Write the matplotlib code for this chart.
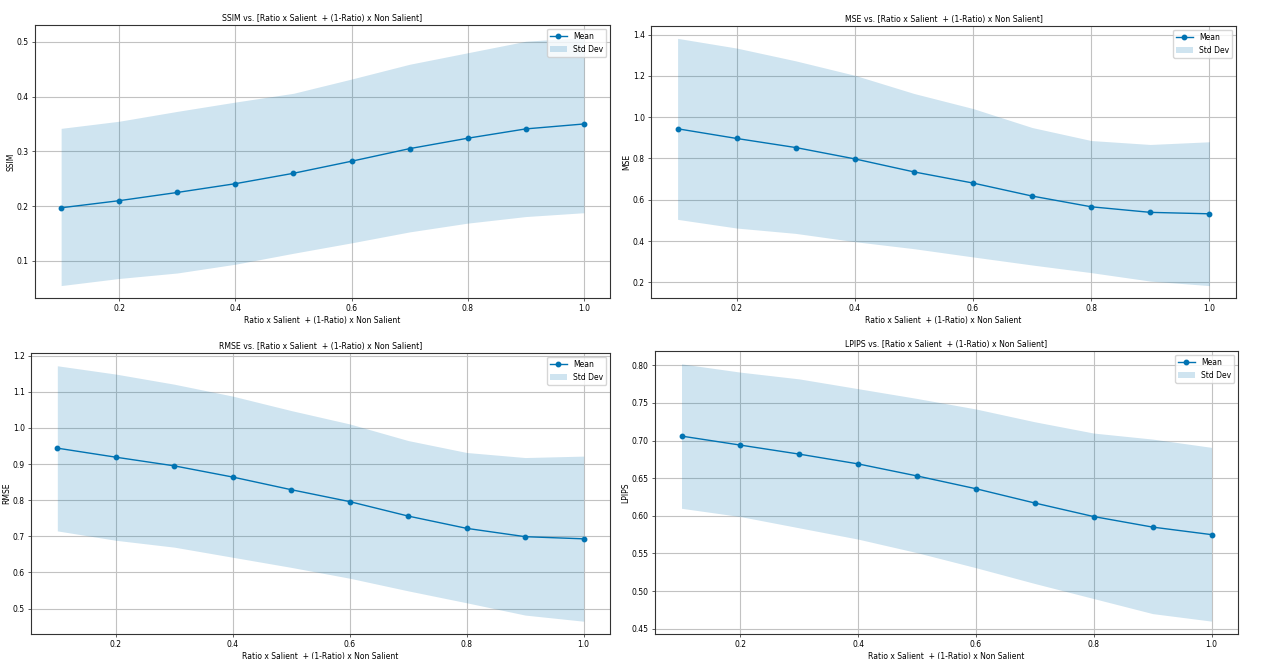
import matplotlib
matplotlib.use('Agg')
import matplotlib.pyplot as plt
import numpy as np

'''DATA'''
ratios = [0.1, 0.2, 0.3, 0.4, 0.5, 0.6, 0.7, 0.8, 0.9, 1.0]
xlabel = 'Ratio x Salient  + (1-Ratio) x Non Salient'

ssim_mean = [0.197, 0.210, 0.225, 0.241, 0.260, 0.282, 0.305, 0.324, 0.341, 0.350]
ssim_upper = [0.342, 0.355, 0.373, 0.390, 0.406, 0.432, 0.459, 0.480, 0.501, 0.508]
ssim_lower = [0.055, 0.068, 0.078, 0.094, 0.114, 0.133, 0.153, 0.169, 0.181, 0.188]

mse_mean = [0.944, 0.897, 0.853, 0.798, 0.735, 0.681, 0.618, 0.566, 0.539, 0.532]
mse_upper = [1.382, 1.335, 1.273, 1.203, 1.115, 1.042, 0.950, 0.887, 0.868, 0.881]
mse_lower = [0.505, 0.463, 0.437, 0.397, 0.363, 0.323, 0.284, 0.247, 0.206, 0.184]

rmse_mean = [0.944, 0.919, 0.895, 0.864, 0.829, 0.796, 0.756, 0.722, 0.699, 0.693]
rmse_upper = [1.172, 1.149, 1.121, 1.088, 1.048, 1.011, 0.965, 0.932, 0.918, 0.922]
rmse_lower = [0.715, 0.689, 0.670, 0.642, 0.614, 0.584, 0.549, 0.516, 0.482, 0.465]

lpips_mean = [0.706, 0.694, 0.682, 0.669, 0.653, 0.636, 0.617, 0.599, 0.585, 0.575]
lpips_upper = [0.802, 0.791, 0.782, 0.769, 0.756, 0.742, 0.725, 0.710, 0.702, 0.691]
lpips_lower = [0.610, 0.599, 0.584, 0.569, 0.551, 0.531, 0.510, 0.490, 0.470, 0.460]

'''PLOT'''
W, H = 1264, 659
fig = plt.figure(figsize=(W/100, H/100), dpi=100)

# pixel boxes: left, top, right, bottom
boxes = [(35, 25, 610, 298), (651, 26, 1236, 298), (31, 353, 610, 634), (655, 351, 1238, 634)]
panels = [('SSIM', ssim_mean, ssim_lower, ssim_upper, [0.1, 0.2, 0.3, 0.4, 0.5], '%.1f'),
          ('MSE', mse_mean, mse_lower, mse_upper, [0.2, 0.4, 0.6, 0.8, 1.0, 1.2, 1.4], '%.1f'),
          ('RMSE', rmse_mean, rmse_lower, rmse_upper, [0.5, 0.6, 0.7, 0.8, 0.9, 1.0, 1.1, 1.2], '%.1f'),
          ('LPIPS', lpips_mean, lpips_lower, lpips_upper, [0.45, 0.50, 0.55, 0.60, 0.65, 0.70, 0.75, 0.80], '%.2f')]

blue = '#0173b2'
fs = 5.5

for (l, t, r, b), (name, mean, lo, hi, yt, fmt) in zip(boxes, panels):
    ax = fig.add_axes([l/W, 1-b/H, (r-l)/W, (b-t)/H])
    ax.fill_between(ratios, lo, hi, color=blue, alpha=0.19, linewidth=0, label='Std Dev')
    ax.plot(ratios, mean, marker='o', color=blue, lw=1.0, markersize=3.2, label='Mean')
    ax.set_xticks([0.2, 0.4, 0.6, 0.8, 1.0])
    ax.set_yticks(yt)
    ax.yaxis.set_major_formatter(matplotlib.ticker.FormatStrFormatter(fmt))
    ax.grid(True, color='#c2c2c2', lw=0.8)
    ax.set_axisbelow(True)
    ax.tick_params(labelsize=fs, length=2.5, width=0.6, color='#444444', pad=2)
    for s in ax.spines.values():
        s.set_color('#333333')
        s.set_linewidth(0.8)
    ax.set_title(name + ' vs. [' + xlabel + ']', fontsize=5.6, pad=3)
    ax.set_xlabel(xlabel, fontsize=fs, labelpad=2)
    ax.set_ylabel(name, fontsize=fs, labelpad=1)
    h, lab = ax.get_legend_handles_labels()
    ax.legend(h[::-1], lab[::-1], loc='upper right', fontsize=fs, framealpha=0.8, borderpad=0.4, handlelength=2.2)

plt.savefig('out.png', dpi=100)
print("done")
